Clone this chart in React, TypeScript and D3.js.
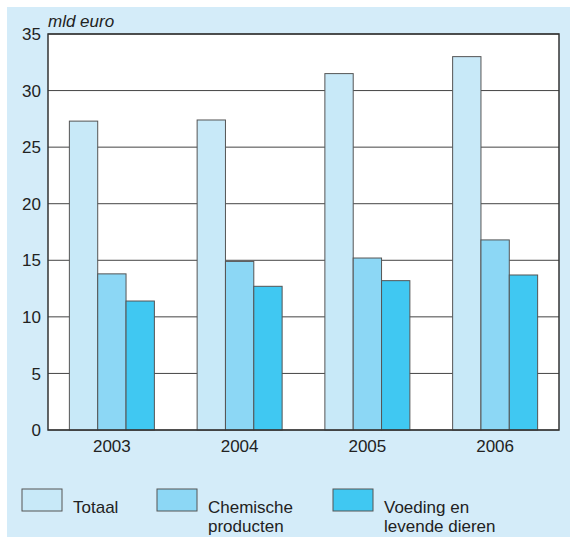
import React from "react";
import * as d3 from "d3";

const years = ["2003", "2004", "2005", "2006"];
const seriesNames = ["Totaal", "Chemische producten", "Voeding en levende dieren"];
const totaal = [27.3, 27.4, 31.5, 33.0];
const chemische = [13.8, 14.9, 15.2, 16.8];
const voeding = [11.4, 12.7, 13.2, 13.7];
const yTicks = [0, 5, 10, 15, 20, 25, 30, 35];
const colors = ["#c8e9f8", "#8cd7f5", "#40c8f2"];
const legendLines = [["Totaal"], ["Chemische", "producten"], ["Voeding en", "levende dieren"]];

export default function App() {
  const W = 570, H = 542;
  const left = 48, right = 559, top = 34, bottom = 430;
  const x = d3.scaleBand().domain(years).range([left, right]).paddingInner(0).paddingOuter(0);
  const y = d3.scaleLinear().domain([0, 35]).range([bottom, top]);
  const series = [totaal, chemische, voeding];
  const groupW = 85;
  const xs = d3.scaleBand().domain(["0", "1", "2"]).range([0, groupW]);
  const font = "'Liberation Sans', Arial, sans-serif";
  const legendX = [22, 157, 333];
  return (
    <svg width={W} height={H} style={{ position: "absolute", left: 0, top: 0 }} fontFamily={font}>
      <rect x={7} y={7} width={563} height={530} fill="#d4ecf9" />
      <rect x={left} y={top} width={right - left} height={bottom - top} fill="#ffffff" />
      {yTicks.map((t) => (
        <g key={t}>
          <line x1={left} x2={right} y1={y(t)} y2={y(t)} stroke="#444" strokeWidth={1} />
          <text x={41} y={y(t)} dy="0.36em" textAnchor="end" fontSize={17} fill="#222">{t}</text>
        </g>
      ))}
      {years.map((yr, i) => {
        const gx = (x(yr) as number) + (x.bandwidth() - groupW) / 2;
        return (
          <g key={yr}>
            {series.map((s, k) => (
              <rect key={k} x={gx + (xs(String(k)) as number)} y={y(s[i])} width={xs.bandwidth()}
                height={y(0) - y(s[i])} fill={colors[k]} stroke="#555" strokeWidth={1} />
            ))}
            <text x={(x(yr) as number) + x.bandwidth() / 2} y={452} textAnchor="middle" fontSize={17} fill="#222">{yr}</text>
          </g>
        );
      })}
      <rect x={left} y={top} width={right - left} height={bottom - top} fill="none" stroke="#333" strokeWidth={1.5} />
      <text x={48} y={27} fontSize={17} fontStyle="italic" fill="#222">mld euro</text>
      {seriesNames.map((n, k) => (
        <g key={n}>
          <rect x={legendX[k]} y={489} width={40} height={22} fill={colors[k]} stroke="#555" strokeWidth={1} />
          <text x={legendX[k] + 51} y={513} fontSize={17} fill="#222">
            {legendLines[k].map((l, j) => (
              <tspan key={j} x={legendX[k] + 51} dy={j === 0 ? 0 : 19}>{l}</tspan>
            ))}
          </text>
        </g>
      ))}
    </svg>
  );
}
